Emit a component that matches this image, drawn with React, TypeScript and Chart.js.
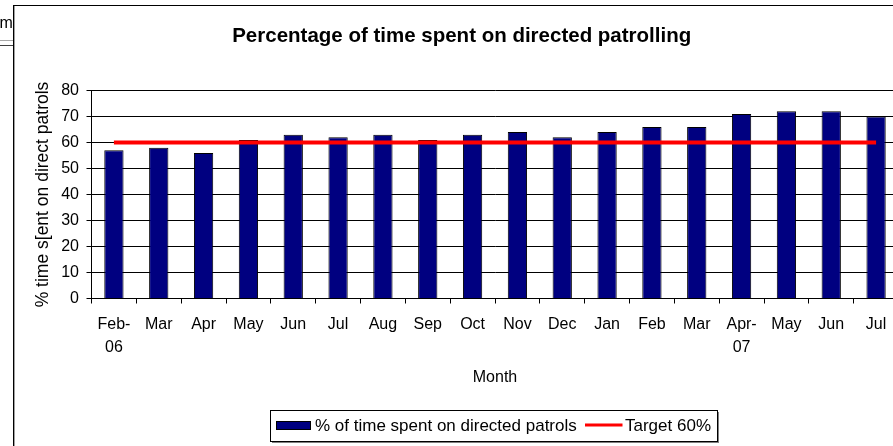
import React, { useEffect, useRef } from 'react';
import { Chart, registerables } from 'chart.js';

Chart.register(...registerables);

const FONT = '"Liberation Sans", Arial, Helvetica, sans-serif';

const months: (string | string[])[] = [
  ['Feb-', '06'], 'Mar', 'Apr', 'May', 'Jun', 'Jul', 'Aug', 'Sep', 'Oct',
  'Nov', 'Dec', 'Jan', 'Feb', 'Mar', ['Apr-', '07'], 'May', 'Jun', 'Jul',
];
const patrolPct = [57, 58, 56, 61, 63, 62, 63, 61, 63, 64, 62, 64, 66, 66, 71, 72, 72, 70];
const targetPct = [60, 60, 60, 60, 60, 60, 60, 60, 60, 60, 60, 60, 60, 60, 60, 60, 60, 60];
const yMin = 0;
const yMax = 80;
const yStep = 10;

const TITLE = 'Percentage of time spent on directed patrolling';
const X_TITLE = 'Month';
const Y_TITLE = '% time s[ent on direct patrols';
const BAR_LABEL = '% of time spent on directed patrols';
const LINE_LABEL = 'Target 60%';

const NAVY = '#000080';
const RED = '#FF0000';

const framePlugin = {
  id: 'excelFrame',
  afterDraw(chart: any) {
    const ctx = chart.ctx as CanvasRenderingContext2D;
    ctx.save();
    // fragment of neighbouring cell on the left
    ctx.fillStyle = '#000';
    ctx.font = `16px ${FONT}`;
    ctx.textAlign = 'left';
    ctx.textBaseline = 'alphabetic';
    ctx.fillText('m', -0.5, 28.3);
    ctx.fillStyle = '#a8a8a8';
    ctx.fillRect(0, 40, 13, 1);
    ctx.fillStyle = '#404040';
    ctx.fillRect(0, 45, 13, 1);
    // chart frame
    ctx.fillStyle = '#000';
    ctx.fillRect(13, 5, 1, 441);
    ctx.fillRect(13, 5, chart.width, 1);
    ctx.fillStyle = '#a0a0a0';
    ctx.fillRect(14, 6, 1, 440);

    // title
    ctx.fillStyle = '#000';
    ctx.font = `bold 20.5px ${FONT}`;
    ctx.textAlign = 'center';
    ctx.fillText(TITLE, 461.7, 41.5);

    // legend
    const barDs = chart.data.datasets.find((d: any) => d.type === 'bar');
    const lineDs = chart.data.datasets.find((d: any) => d.type === 'line');
    const lx = 270, ly = 410, lw = 447, lh = 31;
    ctx.fillStyle = '#fff';
    ctx.fillRect(lx, ly, lw, lh);
    ctx.fillStyle = '#808080';
    ctx.fillRect(lx + 2, ly + lh + 1, lw, 1);
    ctx.fillRect(lx + lw + 1, ly + 2, 1, lh);
    ctx.strokeStyle = '#000';
    ctx.lineWidth = 1;
    ctx.strokeRect(lx + 0.5, ly + 0.5, lw, lh);

    ctx.fillStyle = barDs.backgroundColor;
    ctx.fillRect(276, 421, 35, 9);
    ctx.strokeRect(276.5, 421.5, 34, 8);

    ctx.fillStyle = '#000';
    ctx.font = `17px ${FONT}`;
    ctx.textAlign = 'left';
    ctx.fillText(barDs.label, 315, 430.7);

    ctx.strokeStyle = lineDs.borderColor;
    ctx.lineWidth = 3;
    ctx.beginPath();
    ctx.moveTo(585, 425);
    ctx.lineTo(622.5, 425);
    ctx.stroke();

    ctx.fillStyle = '#000';
    ctx.fillText(lineDs.label, 625, 430.7);
    ctx.restore();
  },
};

export default function App() {
  const ref = useRef<HTMLCanvasElement>(null);

  useEffect(() => {
    if (!ref.current) return;
    Chart.defaults.color = '#000';
    Chart.defaults.font.family = FONT;
    const chart = new Chart(ref.current, {
      type: 'bar',
      data: {
        labels: months,
        datasets: [
          {
            type: 'line',
            label: LINE_LABEL,
            data: targetPct,
            borderColor: RED,
            backgroundColor: RED,
            borderWidth: 4,
            pointRadius: 0,
            tension: 0,
            fill: false,
            order: 0,
          } as any,
          {
            type: 'bar',
            label: BAR_LABEL,
            data: patrolPct,
            backgroundColor: NAVY,
            borderColor: '#000',
            borderWidth: 1,
            barPercentage: 0.43,
            categoryPercentage: 1,
            order: 1,
          } as any,
        ],
      },
      options: {
        responsive: false,
        animation: false,
        devicePixelRatio: 1,
        events: [],
        layout: { padding: { left: 0, top: 90.5, right: 11.5, bottom: 57.5 } },
        plugins: {
          legend: { display: false },
          title: { display: false },
          tooltip: { enabled: false },
        },
        scales: {
          x: {
            type: 'category',
            offset: true,
            afterFit: (scale: any) => { scale.height = 90; },
            grid: {
              display: true,
              drawOnChartArea: false,
              drawTicks: true,
              tickLength: 5,
              color: '#000',
              offset: true,
            },
            border: { display: true, color: '#000', width: 1 },
            ticks: {
              autoSkip: false,
              maxRotation: 0,
              minRotation: 0,
              padding: 10,
              color: '#000',
              font: { size: 16, family: FONT, lineHeight: 1.4 },
            },
            title: {
              display: true,
              text: X_TITLE,
              color: '#000',
              font: { size: 16, family: FONT, lineHeight: 1.2 },
              padding: { top: 0, bottom: 1.2 },
            },
          },
          y: {
            min: yMin,
            max: yMax,
            afterFit: (scale: any) => { scale.width = 91.5; },
            grid: {
              color: '#000',
              tickLength: 5,
              drawTicks: true,
            },
            border: { display: true, color: '#000', width: 1 },
            ticks: {
              stepSize: yStep,
              padding: 7.5,
              color: '#000',
              font: { size: 16, family: FONT },
            },
            title: {
              display: true,
              text: Y_TITLE,
              color: '#000',
              font: { size: 17.5, family: FONT, lineHeight: 1.2 },
              padding: { top: 33, bottom: 0 },
            },
          },
        },
      } as any,
      plugins: [framePlugin],
    });
    return () => chart.destroy();
  }, []);

  return (
    <div
      style={{
        position: 'fixed',
        left: 0,
        top: 0,
        width: 893,
        height: 446,
        overflow: 'hidden',
        background: '#fff',
      }}
    >
      <canvas ref={ref} width={910} height={446} style={{ display: 'block' }} />
    </div>
  );
}
